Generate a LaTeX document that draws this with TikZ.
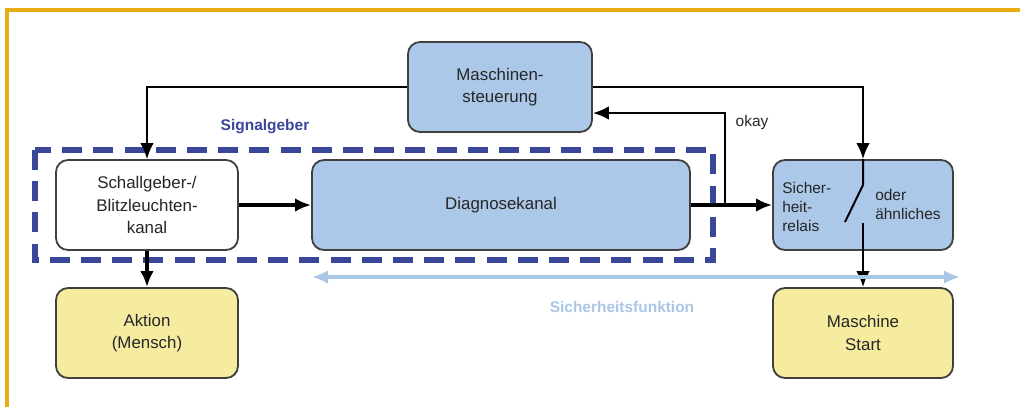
\documentclass[tikz,border=0pt]{standalone}
\usepackage{fontspec}
\setmainfont{Liberation Sans}
\usepackage{xcolor}
\usetikzlibrary{shapes,arrows,arrows.meta,positioning,calc}

\definecolor{boxblue}{RGB}{172,200,232}
\definecolor{boxyellow}{RGB}{245,236,160}
\definecolor{framegold}{RGB}{234,172,20}
\definecolor{dashnavy}{RGB}{58,70,152}
\definecolor{funcblue}{RGB}{170,198,230}

\begin{document}
\begin{tikzpicture}[
    >={Latex[length=4mm,width=3.4mm]},
    block/.style={draw=black!75, line width=1.3pt, rounded corners=0.3cm, minimum height=2.25cm, align=center, text=black!85, font=\fontsize{12}{16}\selectfont},
    blue block/.style={block, fill=boxblue},
    yellow block/.style={block, fill=boxyellow},
    thin arrow/.style={->, line width=1.6pt},
    thick arrow/.style={->, line width=2.4pt},
    small text/.style={inner sep=0pt, align=left, text=black!85, font=\fontsize{11}{13.5}\selectfont},
]
    \useasboundingbox (0,0) rectangle (25.5,-10.175);

    % Frame
    \draw[framegold, line width=2.5pt] (0.175,-10.175) -- (0.175,-0.25) -- (25.5,-0.25);

    % Signalgeber area
    \draw[dashnavy, line width=4pt, dash pattern=on 0.5cm off 0.28cm] (0.875,-3.75) rectangle (17.825,-6.5);
    \node[dashnavy, font=\fontsize{11}{13}\selectfont\bfseries] (signal) at (6.625,-3.175) {Signalgeber};

    % Boxes
    \node[blue block, minimum width=4.6cm] (steuer) at (12.5,-2.175) {Maschinen-\\steuerung};
    \node[block, fill=white, minimum width=4.55cm] (schall) at (3.675,-5.125) {Schallgeber-/\\Blitzleuchten-\\kanal};
    \node[blue block, minimum width=9.45cm] (diag) at (12.525,-5.125) {Diagnosekanal};
    \node[blue block, minimum width=4.5cm] (relais) at (21.575,-5.125) {};
    \node[yellow block, minimum width=4.55cm] (aktion) at (3.675,-8.325) {Aktion\\(Mensch)};
    \node[yellow block, minimum width=4.5cm] (start) at (21.575,-8.325) {Maschine\\Start};

    % Relais text and switch
    \node[small text, anchor=west] (sicher) at (19.55,-5.175) {Sicher-\\heit-\\relais};
    \node[small text, anchor=west, text depth=0pt] (oder) at (21.875,-5.1) {oder\\ähnliches};
    \coordinate (sw1) at (21.575,-4.625);
    \coordinate (sw2) at (21.125,-5.55);
    \coordinate (sw3) at (21.575,-5.575);
    \draw[line width=1.4pt] (relais.north) -- (sw1) -- (sw2);

    % Arrows
    \coordinate (okay) at (18.125,-5.125);
    \draw[thin arrow] (steuer.west) -| (schall.north);
    \draw[thin arrow] (steuer.east) -| (relais.north);
    \draw[thick arrow] (schall.east) -- (diag.west);
    \draw[thick arrow] (diag.east) -- (relais.west);
    \draw[thin arrow] (okay) |- ($(steuer.east)+(0,-0.65)$);
    \node[small text] (okaylabel) at (18.8,-3.05) {okay};
    \draw[thick arrow] (schall.south) -- (aktion.north);
    \draw[thin arrow] (sw3) -- (start.north);

    % Sicherheitsfunktion
    \coordinate (fl) at (7.8,-6.925);
    \coordinate (fr) at (24,-6.925);
    \draw[funcblue, line width=2.2pt, <->] (fl) -- (fr);
    \node[funcblue, font=\fontsize{11}{13}\selectfont\bfseries] (func) at (15.55,-7.675) {Sicherheitsfunktion};
\end{tikzpicture}
\end{document}
